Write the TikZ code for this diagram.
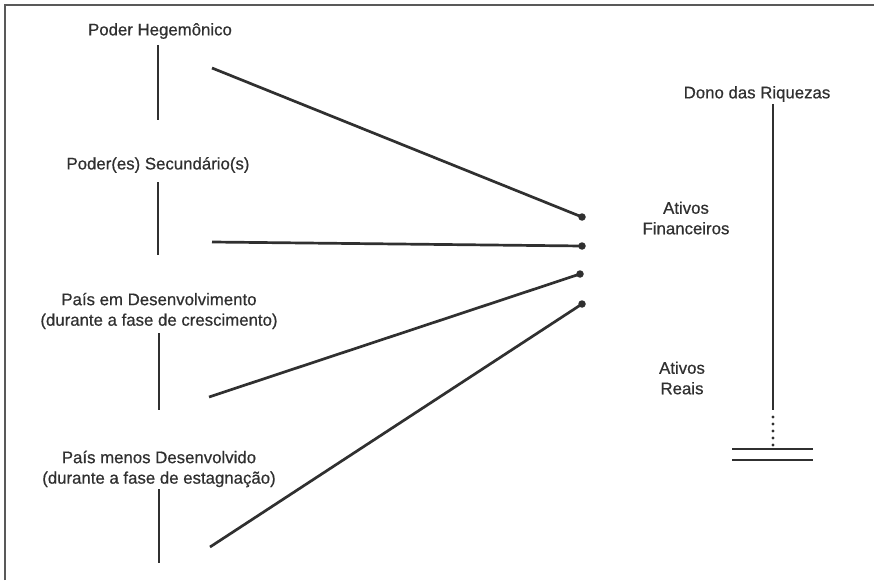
\documentclass[tikz,border=0pt]{standalone}
\usepackage{fontspec}
\setmainfont{Liberation Sans}
\newfontfamily\etiqueta[FakeBold=0.6]{Liberation Sans}
\usetikzlibrary{calc, positioning}
\definecolor{tinta}{HTML}{303030}

\begin{document}
\begin{tikzpicture}[x=1pt, y=-1pt,
  rotulo/.style={align=center, inner sep=0pt, text=tinta,
                 font=\etiqueta\fontsize{16.8}{20.5}\selectfont},
  haste/.style={draw=tinta, line width=2.8pt},
  ligacao/.style={draw=tinta, line width=2.7pt},
  ponto/.style={circle, fill=tinta, inner sep=0pt, minimum size=7.5pt}
]
\useasboundingbox (0,0) rectangle (874,580);

% moldura (so topo e esquerda aparecem)
\draw[line width=2.2pt, black!65] (5,580) -- (5,5) -- (874,5);

% lado esquerdo
\node[rotulo] (hegem) at (160,31) {Poder Hegemônico};
\node[rotulo] (secund) at (158,165) {Poder(es) Secundário(s)};
\node[rotulo] (desenv) at (159,311) {País em Desenvolvimento\\(durante a fase de crescimento)};
\node[rotulo] (menos) at (159,469) {País menos Desenvolvido\\(durante a fase de estagnação)};

\draw[haste] (158,45) -- (158,120);
\draw[haste] (158,182) -- (158,255);
\draw[haste] (159,333) -- (159,410);
\draw[haste] (159,489) -- (159,563);

% pontos de chegada
\node[ponto] (p1) at (582,217) {};
\node[ponto] (p2) at (582,246) {};
\node[ponto] (p3) at (580,274) {};
\node[ponto] (p4) at (582,304) {};

\coordinate (s1) at (212,68);
\coordinate (s2) at (212,242);
\coordinate (s3) at (209,397);
\coordinate (s4) at (210,547);

\draw[ligacao] (s1) -- (p1.center);
\draw[ligacao] (s2) -- (p2.center);
\draw[ligacao] (s3) -- (p3.center);
\draw[ligacao] (s4) -- (p4.center);

% lado direito
\node[rotulo] (financ) at (686,218) {Ativos\\Financeiros};
\node[rotulo] (reais) at (682,378) {Ativos\\Reais};
\node[rotulo] (dono) at (757,94) {Dono das Riquezas};

\coordinate (topo) at (773,104);
\coordinate (quebra) at (773,410);
\coordinate (base) at (773,447);
\draw[haste] (topo) -- (quebra);
\draw[tinta, line width=3.2pt, line cap=round, dash pattern=on 0pt off 7pt]
  (quebra) ++(0,7) -- (base);
\draw[ligacao] (732,449) -- (813,449);
\draw[ligacao] (732,460) -- (813,460);

\end{tikzpicture}
\end{document}
